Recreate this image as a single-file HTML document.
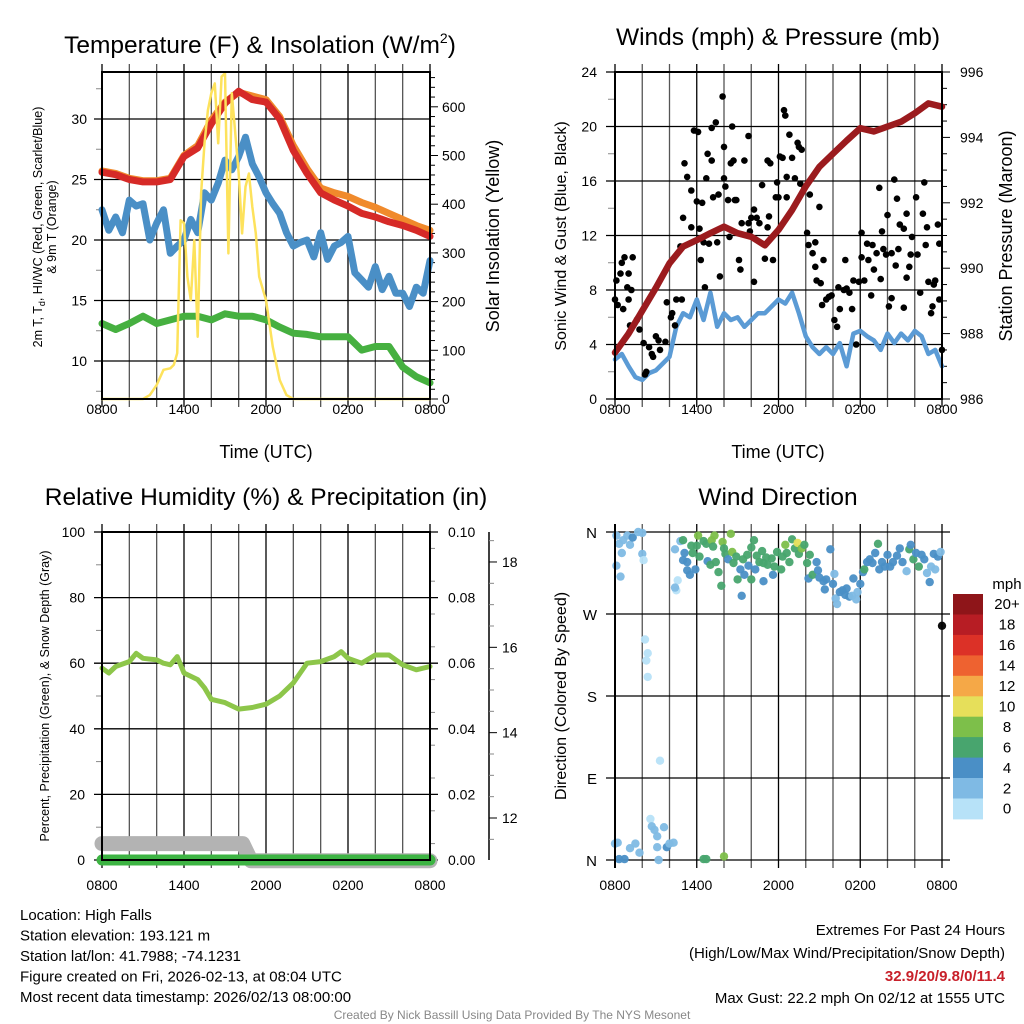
<!DOCTYPE html>
<html><head><meta charset="utf-8"><style>
body{margin:0;background:#fff;}
svg{display:block;font-family:"Liberation Sans",Arial,sans-serif;}
</style></head><body>
<svg id="chart" width="1024" height="1024" viewBox="0 0 1024 1024" xmlns="http://www.w3.org/2000/svg"></svg>
<script>
// ---------- DATA ----------
const timeLabels = ["0800","1400","2000","0200","0800"];
const hourly = [0,1,2,3,4,5,6,7,8,9,10,11,12,13,14,15,16,17,18,19,20,21,22,23,24];
const tempRed = [25.6,25.4,25.0,24.8,24.8,25.0,26.9,27.6,29.6,31.3,32.3,31.6,31.4,30.0,27.4,25.5,23.9,23.3,22.8,22.2,21.9,21.5,21.2,20.8,20.3];
const temp9m = [25.7,25.5,25.1,24.9,24.9,25.1,27.0,27.8,29.9,31.4,32.2,31.9,31.6,30.2,27.8,25.9,24.3,23.9,23.6,23.1,22.7,22.2,21.7,21.2,20.8];
const halfHourly = [0,0.5,1,1.5,2,2.5,3,3.5,4,4.5,5,5.5,6,6.5,7,7.5,8,8.5,9,9.5,10,10.5,11,11.5,12,12.5,13,13.5,14,14.5,15,15.5,16,16.5,17,17.5,18,18.5,19,19.5,20,20.5,21,21.5,22,22.5,23,23.5,24];
const tempBlue = [22.5,20.8,21.9,20.6,23.3,22.8,23.0,20.0,21.4,22.5,18.9,19.5,20.0,21.7,20.6,23.9,23.3,24.7,26.6,25.8,26.9,28.5,26.3,25.2,23.9,23.0,22.2,20.6,19.5,19.8,20.0,18.6,20.6,18.4,19.5,19.8,20.3,17.3,16.7,16.1,17.8,15.9,17.0,15.6,15.6,14.5,16.1,15.6,18.3];
const tempGreen = [13.1,12.6,13.1,13.7,13.1,13.4,13.7,13.7,13.4,13.9,13.7,13.7,13.4,12.8,12.3,12.2,12.0,12.0,12.0,10.9,11.2,11.2,9.5,8.7,8.2];
const solarTimes = [0,3,3.5,4,4.5,5,5.25,5.5,5.75,6,6.25,6.5,6.75,7,7.25,7.5,7.75,8,8.25,8.5,8.75,9,9.25,9.5,9.75,10,10.25,10.5,10.75,11,11.25,11.5,12,12.5,13,13.5,14,24];
const solar = [0,0,8,29,60,63,70,94,367,361,251,203,326,128,422,525,593,628,648,525,662,669,299,628,545,463,340,436,463,395,340,251,203,107,39,8,0,0];
const pressure = [987.42,988.0,988.7,989.4,990.15,990.66,990.86,991.07,991.27,991.07,990.96,990.7,991.17,991.78,992.5,993.1,993.5,993.9,994.28,994.18,994.33,994.48,994.74,995.04,994.94];
const sonicWind = [2.9,3.3,2.4,1.6,1.4,1.9,2.1,2.6,3.1,5.3,6.3,6.0,7.3,5.8,7.8,5.3,6.3,5.8,6.0,5.3,5.8,6.3,6.3,6.8,7.3,7.0,7.8,6.3,4.6,3.8,3.3,3.8,3.3,4.1,2.4,4.8,5.0,4.6,4.3,3.6,4.8,4.1,4.8,4.3,5.0,4.6,3.3,3.6,2.4];
const gustTimes = [0,0.1,0.4,0.5,0.7,1,1.3,0.9,1.2,1.0,0.6,0.2,1.1,1.6,1.8,2.1,2.5,2.7,3,3.2,2.8,2.3,2.2,3.3,3.7,3.8,4.1,4.2,4.4,4.5,4.9,4.8,5,5.1,5.3,5.6,5.8,6.1,5.6,6,6.4,6.2,6.5,6.3,6.6,6.8,7.1,6.7,7.1,7.4,7.2,7.6,6.9,7.5,7.7,7.9,8,8,8.1,8.3,8.5,8.7,8.6,8.4,8.8,8.9,9.1,9.2,9.3,9.5,9.8,9.8,9.9,10,10.2,10.2,10.4,10.6,10.8,11,11.2,11.2,11.4,11.3,11.6,11.8,11.9,12,12.1,12.3,12.4,12.5,12.6,12.6,12.8,13,13.2,13.4,13.5,13.7,13.6,13.9,14.1,14.3,14.2,14.5,14.7,14.7,14.8,15,15.1,15.2,15.3,15.5,15.7,15.9,16.1,16.3,16.4,16.5,16.8,16.9,17,17.2,17.4,17.5,17.7,17.9,18.1,18.1,18.3,18.5,18.6,18.8,18.9,19,19.2,19.4,19.5,19.6,19.7,19.9,20,20.1,20.3,20.3,20.5,20.6,20.7,20.8,20.9,21.2,21.2,21.4,21.4,21.6,21.7,21.8,22.1,22.2,22.4,22.6,22.7,22.8,22.9,23,23.2,23.3,23.4,23.5,23.7,23.8,23.8,24];
const gustValues = [7.3,8.7,9.2,10,10.4,9.2,10.4,8.2,8,7.3,6.6,6.9,5.4,5.8,5.1,4.1,3.8,3.3,4.6,4.3,3.1,2.0,1.8,3.6,4.2,7.1,6.0,6.3,5.4,7.3,7.3,11.2,13.3,17.3,16.3,15.3,19.7,19.6,12.6,14.5,14.4,12.5,11.5,10.2,8.2,18,17.5,16.2,19.9,20.3,14.8,15,11.4,11.5,9,22.2,18.5,16.2,15.6,14.6,17.3,17.5,20,11.9,14.6,14.6,10.2,9.5,12.9,17.5,19.3,12.9,12.3,13.3,8.6,13.9,13.3,12.9,15.7,10.3,12.6,17.5,17.3,13.4,10.2,14.8,15.9,14.8,17.8,17.7,21.2,20.8,14.8,16.3,19.4,17.7,16.2,18.8,18.5,18.3,15.8,15.5,12.2,15,11.3,10.7,11.5,9.7,8.7,14.1,8.5,6.9,10.2,7.3,7.5,7.6,5.8,5.3,8.2,6.6,8.0,10.2,8.1,7.8,6.6,8.7,4.0,8.6,12.2,10.4,8.7,11.4,10.2,7.6,11.3,9.5,10.7,15.5,8.8,12.3,11,10.6,13.5,6.8,7.4,10.7,16.1,9.8,14.7,11,12.8,6.7,12.5,13.6,8.9,9.7,10.6,11.9,14.8,10.6,7.8,13.6,15.9,11.3,12.6,8.6,6.3,6.8,8.4,8.7,12.8,7.3,11.4,3.6];
const rh = [58.5,57,59,60.5,63,61.5,61,60,59.5,62,57,55,52.5,49,48,46,46.5,47.5,50,54,57,60,60.5,62,63.5,61.5,60,62.5,62.5,59.5,58,59];
const rhTimes = [0,0.5,1,2,2.5,3,4,4.5,5,5.5,6,7,7.5,8,9,10,11,12,13,14,14.5,15,16,17,17.5,18,19,20,21,22,23,24];
const snowTimes = [0,10.3,10.9,24];
const snowDepth = [11.4,11.4,11.0,11.0];
const precipTimes = [0,24];
const precip = [0,0];
const dirTimes = [0.1,0.1,0.3,0.5,0.6,0.4,0.9,1.1,1.3,1.7,2.0,2.0,2.1,2.2,2.4,2.3,2.4,3.3,0,0.2,0.3,0.7,1.1,1.5,1.8,2.6,2.7,2.9,3.1,3.6,3.8,4.0,4.3,3.2,3.1,6.5,6.7,8.0,4.5,4.6,4.4,4.4,4.8,5.0,5.1,5.0,5.3,5.3,5.5,5.6,5.7,5.9,6.0,6.1,6.2,6.5,6.7,6.8,7.0,7.1,7.3,7.2,7.4,7.6,7.8,7.9,8.0,8.1,8.3,8.5,8.6,8.7,8.9,9.0,9.2,9.3,9.4,9.5,9.7,9.8,10.0,10.0,10.2,10.3,10.4,10.6,10.8,10.9,10.9,11.1,11.2,11.5,11.6,11.7,11.9,12.2,12.3,12.5,12.6,12.8,13.0,13.2,13.4,13.5,13.7,13.9,14.1,14.2,14.3,14.5,14.8,14.9,15.0,15.3,15.4,15.5,15.8,16.0,16.1,16.2,16.3,16.5,16.7,16.9,17.0,17.2,17.4,17.5,17.7,17.8,18.0,18.2,18.3,18.5,18.7,18.9,19.1,19.3,19.4,19.6,19.8,20.0,20.2,20.4,20.7,20.9,21.1,21.4,21.6,21.7,21.9,22.1,22.3,22.5,22.7,22.9,23.1,23.2,23.4,23.5,23.7,23.9,24.0];
const dirDegrees = [356,323,347,337,351,311,356,346,354,360,359,336,329,242,227,219,201,109,18,19,1,1,13,18,8,45,37,33,26,36,14,18,19,0,14,1,1,4,296,307,299,341,350,351,337,329,327,318,313,345,337,319,345,356,333,350,347,328,324,351,356,344,327,316,301,349,342,336,330,358,338,326,333,308,319,290,330,313,335,323,308,343,351,319,334,327,339,306,326,332,324,331,313,322,338,319,333,346,337,327,352,342,348,336,342,346,326,309,335,313,327,318,310,306,297,308,341,303,314,287,281,294,296,291,298,289,290,309,286,294,303,316,319,327,330,326,337,347,319,327,322,335,322,327,334,342,327,317,341,346,330,337,322,335,330,315,305,322,336,319,333,338,257];
const dirSpeeds = [2,2,3,2,2,2,2,2,4,2,2,2,0,0,0,0,0,0,2,2,4,4,2,2,2,0,2,2,2,2,4,2,2,2,2,6,6,8,0,0,2,2,2,6,4,4,4,4,4,6,6,4,6,8,6,6,6,4,6,8,8,6,6,6,6,8,6,6,4,8,8,6,6,6,4,4,6,4,6,4,6,6,6,4,6,6,6,4,6,6,6,6,4,6,6,6,6,8,6,6,6,6,10,6,8,6,6,4,6,6,4,4,4,4,4,4,4,4,2,2,2,4,4,4,4,4,2,4,2,2,4,4,6,4,4,4,4,6,4,4,4,4,4,4,4,4,4,2,6,4,6,4,6,4,4,2,4,2,4,2,4,2];
const speedLabels = ["20+","18","16","14","12","10","8","6","4","2","0"];
const speedColors = ["#8e1519","#b71d24","#dc3127","#ee6230","#f5a847","#e6df5a","#7dbf4a","#48a56e","#4a8fc6","#7fbae4","#b7e2f8"];

// ---------- helpers ----------
const svg = document.getElementById('chart');
const NS = 'http://www.w3.org/2000/svg';
function mk(tag, attrs, parent) {
  const el = document.createElementNS(NS, tag);
  for (const k in attrs) el.setAttribute(k, attrs[k]);
  (parent || svg).appendChild(el);
  return el;
}
function txt(s, x, y, size, anchor, name, extra) {
  const t = mk('text', Object.assign({x:x, y:y, 'font-size':size, 'text-anchor':anchor||'middle', fill:'#000'}, extra||{}));
  t.textContent = s;
  
  
  return t;
}
function line(x1,y1,x2,y2,stroke,w,name){
  const l = mk('line',{x1:x1,y1:y1,x2:x2,y2:y2,stroke:stroke,'stroke-width':w});
  
  
  return l;
}
function poly(xs, ys, sx, sy, color, w, name){
  let d='';
  for(let i=0;i<xs.length;i++) d += (i?'L':'M') + sx(xs[i]).toFixed(1) + ' ' + sy(ys[i]).toFixed(1);
  const p = mk('path',{d:d, fill:'none', stroke:color, 'stroke-width':w, 'stroke-linejoin':'round','stroke-linecap':'round'});
  
  
  return p;
}
function frame(x0,x1,y0,y1,prefix,labelY){
  const sx = t => x0 + t*(x1-x0)/24;
  for(let h=0; h<=24; h+=2){
    const x = sx(h);
    line(x, y0-8, x, y1+8, (h%6===0)?'#000':'#555', 1.3, prefix+'-vgrid');
  }
  for(let i=0;i<timeLabels.length;i++){
    txt(timeLabels[i], sx(i*6), labelY, 14, 'middle', prefix+'-x-tick-label');
  }
  return sx;
}
function border(x0,x1,y0,y1,name){
  const r = mk('rect',{x:x0,y:y0,width:x1-x0,height:y1-y0,fill:'none',stroke:'#000','stroke-width':2});
  
  
}

// ---------- Panel 1 ----------
(function(){
  const x0=102,x1=430,y0=72,y1=399;
  const sy = v => 119 + (30-v)*12.1;
  const sr = w => 399 - w*0.487;
  const sx = frame(x0,x1,y0,y1,'temp',414);
  [10,15,20,25,30].forEach(v=>{
    line(94, sy(v), x1, sy(v), '#000', 1.3, 'temp-hgrid');
    txt(String(v), 87, sy(v)+5, 14, 'end', 'temp-y-tick-label');
  });
  [7.5,12.5,17.5,22.5,27.5,32.5].forEach(v=> line(96, sy(v), x0, sy(v), '#888', 1, 'temp-y-minor-tick'));
  for(let w=0; w<=660; w+=20) line(x1, sr(w), x1+(w%100===0?8:5), sr(w), '#000', 1, 'solar-tick');
  [0,100,200,300,400,500,600].forEach(w=> txt(String(w), 442, sr(w)+5, 14, 'start', 'solar-tick-label'));
  poly(halfHourly, tempBlue, sx, sy, '#4a8fc6', 7, 'heat-index-line');
  poly(hourly, tempGreen, sx, sy, '#46b040', 7, 'dewpoint-line');
  poly(hourly, temp9m, sx, sy, '#f08a2c', 7, 'temp-9m-line');
  poly(hourly, tempRed, sx, sy, '#d62a27', 7, 'temp-2m-line');
  poly(solarTimes, solar, sx, sr, '#fde25c', 2.5, 'solar-insolation-line');
  border(x0,x1,y0,y1,'temp-plot-border');
  const t = txt('Temperature (F) & Insolation (W/m', 260, 53, 24.5, 'middle', 'temp-chart-title');
  const sup = document.createElementNS(NS,'tspan'); sup.setAttribute('font-size','14'); sup.setAttribute('dy','-10'); sup.textContent='2'; t.appendChild(sup);
  const cl = document.createElementNS(NS,'tspan'); cl.setAttribute('dy','10'); cl.textContent=')'; t.appendChild(cl);
  txt('Time (UTC)', 266, 458, 18, 'middle', 'temp-x-axis-title');
  const yl = txt('2m T, T', 0, 0, 12.5, 'middle', 'temp-y-axis-title', {transform:'translate(42,227) rotate(-90)'});
  const sub = document.createElementNS(NS,'tspan'); sub.setAttribute('font-size','9'); sub.setAttribute('dy','3'); sub.textContent='d'; yl.appendChild(sub);
  const rest = document.createElementNS(NS,'tspan'); rest.setAttribute('dy','-3'); rest.textContent=', HI/WC (Red, Green, Scarlet/Blue)'; yl.appendChild(rest);
  txt('& 9m T (Orange)', 0, 0, 12.5, 'middle', 'temp-y-axis-title-2', {transform:'translate(56,227) rotate(-90)'});
  txt('Solar Insolation (Yellow)', 0, 0, 18, 'middle', 'solar-y-axis-title', {transform:'translate(499,236) rotate(-90)'});
})();

// ---------- Panel 2 ----------
(function(){
  const x0=615,x1=942,y0=72,y1=399;
  const sy = v => 399 - v*13.625;
  const sp = p => 399 - (p-986)*32.7;
  const sx = frame(x0,x1,y0,y1,'wind',414);
  [0,4,8,12,16,20,24].forEach(v=>{
    line(606, sy(v), x1, sy(v), '#000', 1.3, 'wind-hgrid');
    txt(String(v), 597, sy(v)+5, 14, 'end', 'wind-y-tick-label');
  });
  [2,6,10,14,18,22].forEach(v=> line(608, sy(v), x0, sy(v), '#888', 1, 'wind-y-minor-tick'));
  for(let p=986; p<=996.01; p+=0.5) line(x1, sp(p), x1+(Math.abs(p%2)<0.01?8:5), sp(p), '#000', 1, 'pressure-tick');
  [986,988,990,992,994,996].forEach(p=> txt(String(p), 960, sp(p)+5, 14, 'start', 'pressure-tick-label'));
  poly(halfHourly, sonicWind, sx, sy, '#5b9bd5', 4.5, 'sonic-wind-line');
  for(let i=0;i<gustTimes.length;i++){
    const c = mk('circle',{cx:sx(gustTimes[i]).toFixed(1), cy:sy(gustValues[i]).toFixed(1), r:3.3, fill:'#000'});
    
    
  }
  poly(hourly, pressure, sx, sp, '#9b1b1e', 6.5, 'pressure-line');
  border(x0,x1,y0,y1,'wind-plot-border');
  txt('Winds (mph) & Pressure (mb)', 778, 45, 24.5, 'middle', 'wind-chart-title');
  txt('Time (UTC)', 778, 458, 18, 'middle', 'wind-x-axis-title');
  txt('Sonic Wind & Gust (Blue, Black)', 0, 0, 16, 'middle', 'wind-y-axis-title', {transform:'translate(566,236) rotate(-90)'});
  txt('Station Pressure (Maroon)', 0, 0, 18, 'middle', 'pressure-y-axis-title', {transform:'translate(1012,236) rotate(-90)'});
})();

// ---------- Panel 3 ----------
(function(){
  const x0=102,x1=430,y0=532,y1=860;
  const sy = v => 860 - v*3.28;
  const sp = v => 860 - v*3280;
  const ss = v => 818 - (v-12)*42.67;
  const sx = frame(x0,x1,y0,y1,'rh',890);
  [0,20,40,60,80,100].forEach(v=>{
    line(94, sy(v), x1+8, sy(v), '#000', 1.3, 'rh-hgrid');
    txt(String(v), 85, sy(v)+5, 14, 'end', 'rh-y-tick-label');
  });
  [10,30,50,70,90].forEach(v=> line(96, sy(v), x0, sy(v), '#888', 1, 'rh-y-minor-tick'));
  for(let k=1;k<20;k+=2) line(x1, sp(k*0.005), x1+5, sp(k*0.005), '#888', 1, 'precip-minor-tick');
  [0,0.02,0.04,0.06,0.08,0.10].forEach(v=> txt(v.toFixed(2), 448, sp(v)+5, 14, 'start', 'precip-tick-label'));
  line(489, 532, 489, 860, '#000', 1.5, 'snow-depth-axis');
  for(let v=11.5; v<=18.6; v+=0.5){ const maj = Math.abs(v%2)<0.01; line(489, ss(v), 489+(maj?8:5), ss(v), maj?'#000':'#888', 1, 'snow-depth-tick'); }
  [12,14,16,18].forEach(v=> txt(String(v), 502, ss(v)+5, 14, 'start', 'snow-depth-tick-label'));
  poly(snowTimes, snowDepth, sx, ss, '#b3b3b3', 15, 'snow-depth-line');
  poly(precipTimes, precip, sx, sp, '#3db443', 11, 'precip-line');
  poly(rhTimes, rh, sx, sy, '#8dc64a', 5, 'rh-line');
  border(x0,x1,y0,y1,'rh-plot-border');
  txt('Relative Humidity (%) & Precipitation (in)', 266, 505, 24.5, 'middle', 'rh-chart-title');
  txt('Percent, Precipitation (Green), & Snow Depth (Gray)', 0, 0, 12.5, 'middle', 'rh-y-axis-title', {transform:'translate(49,696) rotate(-90)'});
})();

// ---------- Panel 4 ----------
(function(){
  const x0=615,x1=942,y0=532,y1=860;
  const sy = d => 860 - d*328/360;
  const sx = frame(x0,x1,y0,y1,'dir',890);
  const dirs = ['N','E','S','W','N'];
  for(let i=0;i<5;i++){
    line(606, sy(i*90), x1+8, sy(i*90), '#000', 1.3, 'dir-hgrid');
    txt(dirs[i], 597, sy(i*90)+6, 15, 'end', 'dir-y-tick-label');
  }
  for(let i=0;i<dirTimes.length;i++){
    let idx = 10 - Math.min(10, Math.floor(dirSpeeds[i]/2));
    const c = mk('circle',{cx:sx(dirTimes[i]).toFixed(1), cy:sy(dirDegrees[i]).toFixed(1), r:4.2, fill:speedColors[idx], 'fill-opacity':0.95});
    
    
  }
  line(615, y0-8, 615, y1+8, '#000', 2, 'dir-left-axis');
  txt('Wind Direction', 778, 505, 24.5, 'middle', 'dir-chart-title');
  txt('Direction (Colored By Speed)', 0, 0, 16, 'middle', 'dir-y-axis-title', {transform:'translate(566,696) rotate(-90)'});
  const cbx=953, cby=594, bh=20.45;
  txt('mph', 1007, 589, 15, 'middle', 'colorbar-title');
  for(let i=0;i<speedColors.length;i++){
    const r = mk('rect',{x:cbx, y:(cby+i*bh).toFixed(1), width:30, height:(bh+0.5).toFixed(1), fill:speedColors[i]});
    
    
    txt(speedLabels[i], 1007, cby+i*bh+bh/2+5, 15, 'middle', 'colorbar-label');
  }
})();

// ---------- footer ----------
const info = ['Location: High Falls','Station elevation: 193.121 m','Station lat/lon: 41.7988; -74.1231','Figure created on Fri, 2026-02-13, at 08:04 UTC','Most recent data timestamp: 2026/02/13 08:00:00'];
info.forEach((s,i)=> txt(s, 20, 920+i*20.5, 15, 'start', 'station-info-line'));
txt('Extremes For Past 24 Hours', 1005, 935, 15, 'end', 'extremes-title');
txt('(High/Low/Max Wind/Precipitation/Snow Depth)', 1005, 958, 15, 'end', 'extremes-subtitle');
txt('32.9/20/9.8/0/11.4', 1005, 981, 15, 'end', 'extremes-values', {fill:'#c8202a','font-weight':'bold'});
txt('Max Gust: 22.2 mph On 02/12 at 1555 UTC', 1005, 1003, 15, 'end', 'max-gust');
txt('Created By Nick Bassill Using Data Provided By The NYS Mesonet', 512, 1019, 12, 'middle', 'credit-line', {fill:'#888'});
</script>
</body></html>
